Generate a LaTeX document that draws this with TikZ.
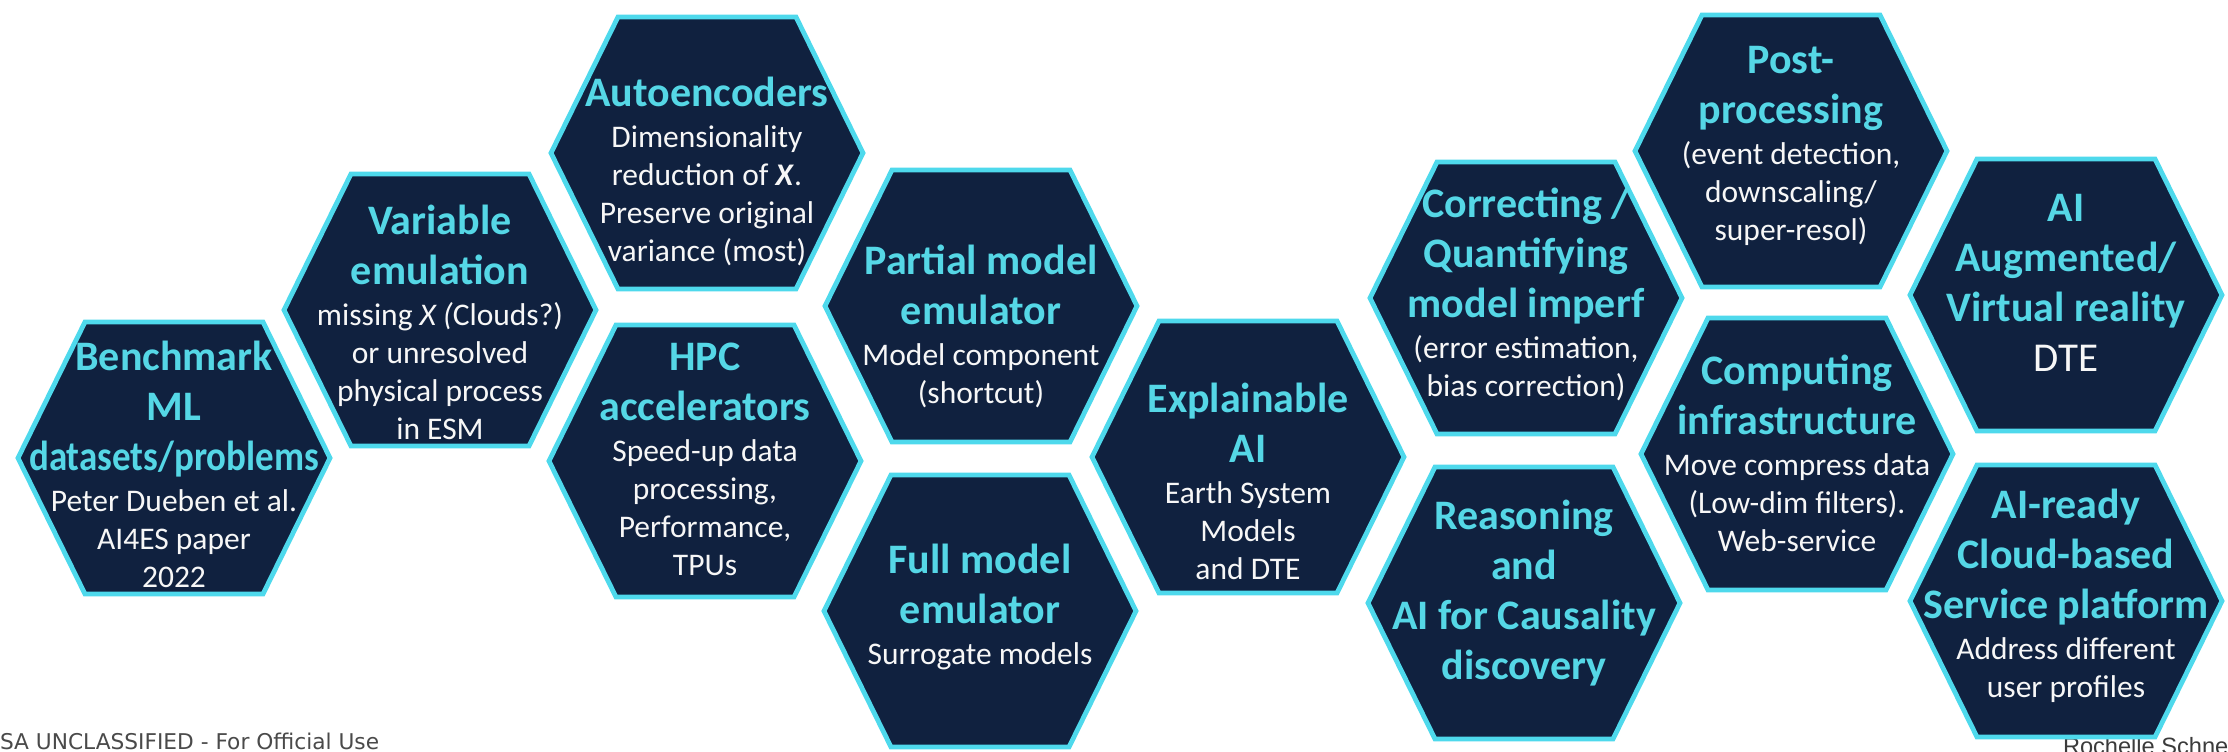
\documentclass[tikz,border=0pt]{standalone}
\usepackage{fontspec}
\usepackage{graphicx}
\setmainfont{Carlito}
\newfontfamily\footfont{DejaVu Sans}
\newfontfamily\namefont{Liberation Sans}

\definecolor{hexnavy}{HTML}{10213F}
\definecolor{hexcyan}{HTML}{4ED9EC}
\definecolor{titlecyan}{HTML}{55D7E6}
\definecolor{bodywhite}{HTML}{F7F7F7}
\definecolor{footgray}{HTML}{4A4A4A}

% line styles inside a cell: bold cyan heading, white body, large white
\newcommand\hxtfont{\fontsize{21pt}{0pt}\selectfont\bfseries\color{titlecyan}}
\newcommand\hxbfont{\fontsize{15.75pt}{0pt}\selectfont\color{bodywhite}}
\newcommand\hxdfont{\fontsize{20.5pt}{0pt}\selectfont\color{bodywhite}}
\newcommand\hxt[1]{\rule[-7pt]{0pt}{25pt}{\hxtfont #1}}
\newcommand\hxb[1]{\rule[-5.5pt]{0pt}{19pt}{\hxbfont #1}}
\newcommand\hxd[1]{\rule[-7pt]{0pt}{25pt}{\hxdfont #1}}

% hexagonal cell outline centred at (#1,#2), coordinates in pixels
\newcommand\hexcell[2]{%
  \draw[hexframe, shift={(#1,#2)}]
    (-156,0) -- (-89,-136) -- (89,-136) -- (156,0) -- (89,136) -- (-89,136) -- cycle;}

\begin{document}
\begin{tikzpicture}[x=0.5pt, y=-0.5pt,
  hexframe/.style={draw=hexcyan, line width=2.4pt, fill=hexnavy, line join=miter},
  hextext/.style={inner sep=0pt, outer sep=0pt, align=center, anchor=north,
    font={\baselineskip=0pt\relax\lineskip=0pt\relax\lineskiplimit=0pt\relax}},
  footer/.style={inner sep=0pt, outer sep=0pt, anchor=base west}]

\fill[white] (0,0) rectangle (2228,751);
\useasboundingbox (0,0) rectangle (2228,751);

% footers (the cells are drawn over them)
\node[footer, font={\footfont\fontsize{10.85pt}{13pt}\selectfont}, text=footgray]
  (classif) at (0,749) {SA UNCLASSIFIED - For Official Use};
\node[footer, font={\namefont\fontsize{11.8pt}{14pt}\selectfont}, text=footgray!80!black]
  (author) at (2063,754) {Rochelle Schne};

% column 1
\hexcell{174}{458}
\node[hextext] (bench) at (174,334)
  {\hxt{Benchmark}\\\hxt{ML}\\\hxt{\scalebox{0.88}[1]{datasets/problems}}\\
   \hxb{Peter Dueben et al.}\\\hxb{AI4ES paper}\\\hxb{2022}};

% column 2
\hexcell{440}{310}
\node[hextext] (varem) at (440,198)
  {\hxt{Variable}\\\hxt{emulation}\\
   \hxb{missing \textit{X (}Clouds?)}\\\hxb{or unresolved}\\\hxb{physical process}\\\hxb{in ESM}};

% column 3
\hexcell{707}{153}
\node[hextext] (autoenc) at (707,70)
  {\hxt{Autoencoders}\\
   \hxb{Dimensionality}\\\hxb{reduction of \textbf{\textit{X}}.}\\\hxb{Preserve original}\\\hxb{variance (most)}};

\hexcell{705}{461}
\node[hextext] (hpc) at (705,334)
  {\hxt{HPC}\\\hxt{accelerators}\\
   \hxb{Speed-up data}\\\hxb{processing,}\\\hxb{Performance,}\\\hxb{TPUs}};

% column 4
\hexcell{981}{306}
\node[hextext] (partial) at (981,238)
  {\hxt{Partial model}\\\hxt{emulator}\\
   \hxb{Model component}\\\hxb{(shortcut)}};

\hexcell{980}{611}
\node[hextext] (fullem) at (980,537)
  {\hxt{Full model}\\\hxt{emulator}\\
   \hxb{Surrogate models}};

% column 5
\hexcell{1248}{457}
\node[hextext] (xai) at (1248,376)
  {\hxt{Explainable}\\\hxt{AI}\\
   \hxb{Earth System}\\\hxb{Models}\\\hxb{and DTE}};

% column 6
\hexcell{1526}{298}
\node[hextext] (correct) at (1526,181)
  {\hxt{Correcting /}\\\hxt{Quantifying}\\\hxt{model imperf}\\
   \hxb{(error estimation,}\\\hxb{bias correction)}};

\hexcell{1524}{603}
\node[hextext] (reason) at (1524,493)
  {\hxt{Reasoning}\\\hxt{and}\\\hxt{AI for Causality}\\\hxt{discovery}};

% column 7
\hexcell{1791}{151}
\node[hextext] (post) at (1791,37)
  {\hxt{Post-}\\\hxt{processing}\\
   \hxb{(event detection,}\\\hxb{downscaling/}\\\hxb{super-resol)}};

\hexcell{1797}{454}
\node[hextext] (compute) at (1797,348)
  {\hxt{Computing}\\\hxt{infrastructure}\\
   \hxb{Move compress data}\\\hxb{(Low-dim filters).}\\\hxb{Web-service}};

% column 8
\hexcell{2066}{295}
\node[hextext] (augment) at (2066,185)
  {\hxt{AI}\\\hxt{Augmented/}\\\hxt{Virtual reality}\\\hxd{DTE}};

\hexcell{2066}{601}
\node[hextext] (ready) at (2066,482)
  {\hxt{AI-ready}\\\hxt{Cloud-based}\\\hxt{Service platform}\\
   \hxb{Address different}\\\hxb{user profiles}};

\end{tikzpicture}
\end{document}
